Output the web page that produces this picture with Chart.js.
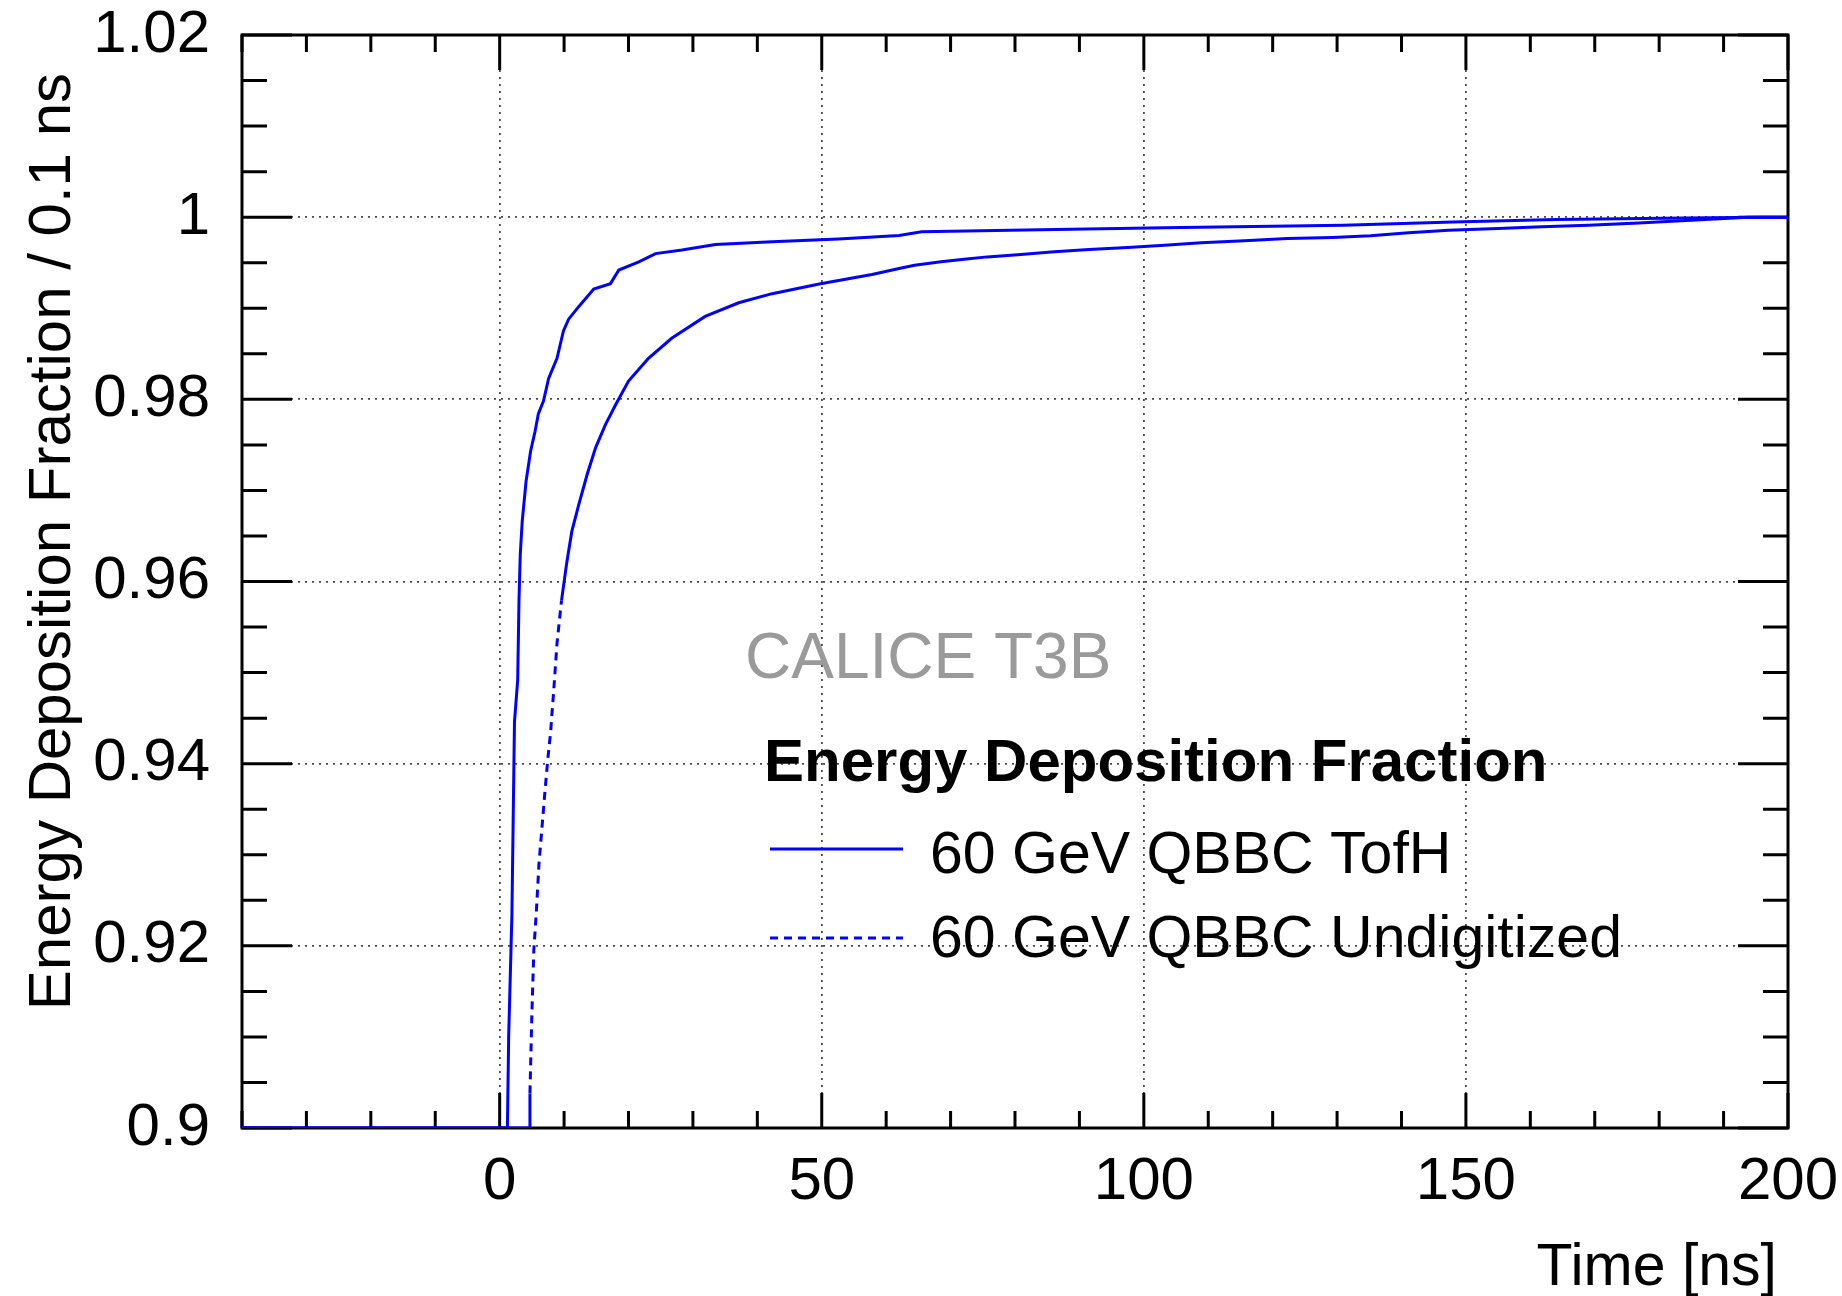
<!DOCTYPE html>
<html>
<head>
<meta charset="utf-8">
<title>Energy Deposition Fraction</title>
<script src="https://cdn.jsdelivr.net/npm/chart.js@4.4.1/dist/chart.umd.min.js"></script>
<style>
  html, body { margin: 0; padding: 0; background: #fff; }
  #wrap { width: 1842px; height: 1296px; position: relative; }
</style>
</head>
<body>
<div id="wrap"><canvas id="chart"></canvas></div>
<script>
// cumulative energy fraction: time (ns) and fraction
const tofhTime = [-40, 1.2, 1.4, 1.9, 2.3, 2.8, 3.0, 3.2, 3.5, 4.1, 4.8, 5.5, 6.0, 6.8, 7.6, 8.9, 9.9, 10.7, 12.3, 14.6, 17.2, 18.5, 21.6, 24.2, 28.3, 33.5, 42.3, 52.6, 62.0, 65.5, 86.2, 105.8, 131.0, 148.0, 164.0, 184.0, 196.0, 200];
const tofhFrac = [0.9, 0.9, 0.9101, 0.9234, 0.9446, 0.9492, 0.9579, 0.963, 0.9666, 0.971, 0.9743, 0.9765, 0.9784, 0.9798, 0.9823, 0.9845, 0.9875, 0.9888, 0.9902, 0.9921, 0.9927, 0.9942, 0.9951, 0.996, 0.9964, 0.997, 0.9973, 0.9976, 0.998, 0.9984, 0.99865, 0.99887, 0.9991, 0.99948, 0.99975, 0.9999, 1.0, 1.0];

const undigTime = [-40, 4.6, 4.7, 5.0, 5.3, 5.7, 6.1, 6.5, 7.0, 7.5, 7.9, 8.4, 8.9, 9.6, 10.4, 11.2, 12.3, 13.6, 14.9, 16.4, 18.0, 20.0, 23.1, 26.7, 31.9, 37.1, 42.3, 49.8, 57.8, 62.0, 64.4, 68.5, 72.1, 75.7, 80.9, 86.1, 91.5, 97.5, 103.2, 108.9, 115.6, 122.3, 129.3, 135.2, 141.1, 147.3, 155.0, 161.8, 169.0, 176.8, 193.8, 200];
const undigFrac = [0.9, 0.9, 0.9038, 0.9125, 0.9195, 0.9238, 0.929, 0.9324, 0.9367, 0.9407, 0.9434, 0.9481, 0.9532, 0.9579, 0.962, 0.9655, 0.9685, 0.9718, 0.9747, 0.9772, 0.9794, 0.982, 0.9845, 0.9867, 0.9891, 0.9906, 0.9916, 0.9927, 0.9937, 0.99437, 0.99473, 0.9951, 0.99539, 0.99564, 0.9959, 0.99619, 0.99645, 0.99667, 0.99693, 0.99718, 0.9974, 0.99766, 0.99778, 0.99795, 0.9983, 0.99857, 0.99876, 0.99894, 0.99912, 0.99937, 1.0, 1.0];

const xTickValues = [0, 50, 100, 150, 200];
const yTickValues = [0.9, 0.92, 0.94, 0.96, 0.98, 1, 1.02];
const yTickLabels = ["0.9", "0.92", "0.94", "0.96", "0.98", "1", "1.02"];

const seriesNames = ["60 GeV QBBC TofH", "60 GeV QBBC Undigitized"];
const legendTitle = "Energy Deposition Fraction";
const watermark = "CALICE T3B";
const xTitle = "Time [ns]";
const yTitle = "Energy Deposition Fraction / 0.1 ns";

const FONT = "'Liberation Sans', Arial, Helvetica, sans-serif";
const BLUE = "#0000ff";
const DASH = [8, 6];

const toPoints = (xs, ys) => xs.map((t, i) => ({ x: t, y: ys[i] }));

// ROOT-style frame with inward ticks on all four sides, plus titles and legend
const rootFrame = {
    id: "rootFrame",
    beforeDatasetsDraw(chart) {
        const { ctx, chartArea: a, scales: { x, y } } = chart;
        ctx.save();
        ctx.strokeStyle = "#000";
        ctx.lineWidth = 3;
        ctx.beginPath();
        for (let t = -40; t <= 200; t += 10) {
            const px = x.getPixelForValue(t);
            const len = t % 50 === 0 ? 35 : 17;
            ctx.moveTo(px, a.bottom); ctx.lineTo(px, a.bottom - len);
            ctx.moveTo(px, a.top); ctx.lineTo(px, a.top + len);
        }
        for (let i = 0; i <= 24; i++) {
            const py = y.getPixelForValue(0.9 + i * 0.005);
            const len = i % 4 === 0 ? 50 : 25;
            ctx.moveTo(a.left, py); ctx.lineTo(a.left + len, py);
            ctx.moveTo(a.right, py); ctx.lineTo(a.right - len, py);
        }
        ctx.stroke();
        ctx.strokeRect(a.left, a.top, a.right - a.left, a.bottom - a.top);
        ctx.restore();
    },
    afterDraw(chart) {
        const { ctx } = chart;
        ctx.save();
        ctx.textBaseline = "alphabetic";

        // axis titles
        ctx.fillStyle = "#000";
        ctx.font = "59px " + FONT;
        ctx.textAlign = "right";
        ctx.fillText(xTitle, 1777, 1285);

        ctx.save();
        ctx.translate(70, 73);
        ctx.rotate(-Math.PI / 2);
        ctx.font = "60px " + FONT;
        ctx.textAlign = "right";
        ctx.fillText(yTitle, 0, 0);
        ctx.restore();

        // watermark
        ctx.textAlign = "left";
        ctx.fillStyle = "#9a9a9a";
        ctx.font = "64px " + FONT;
        ctx.fillText(watermark, 745, 678);

        // legend
        ctx.fillStyle = "#000";
        ctx.font = "bold 60px " + FONT;
        ctx.fillText(legendTitle, 764, 781);

        ctx.font = "59px " + FONT;
        ctx.fillText(seriesNames[0], 930, 873);
        ctx.fillText(seriesNames[1], 930, 957);

        ctx.strokeStyle = BLUE;
        ctx.lineWidth = 3;
        ctx.beginPath();
        ctx.moveTo(770, 849); ctx.lineTo(903, 849);
        ctx.stroke();
        ctx.setLineDash(DASH);
        ctx.beginPath();
        ctx.moveTo(770, 938); ctx.lineTo(903, 938);
        ctx.stroke();
        ctx.restore();
    }
};

const ctx = document.getElementById("chart").getContext("2d");

new Chart(ctx, {
    type: "line",
    data: {
        datasets: [
            {
                label: seriesNames[0],
                data: toPoints(tofhTime, tofhFrac),
                borderColor: BLUE,
                borderWidth: 3,
                tension: 0,
                pointRadius: 0,
                fill: false
            },
            {
                label: seriesNames[1],
                data: toPoints(undigTime, undigFrac),
                borderColor: BLUE,
                borderWidth: 3,
                tension: 0,
                pointRadius: 0,
                fill: false,
                // only the long jumps of the steep rise show the dashes
                segment: {
                    borderDash: c => (c.p0.parsed.y > 0.9 && c.p1.parsed.y < 0.96) ? DASH : undefined
                }
            }
        ]
    },
    options: {
        responsive: true,
        maintainAspectRatio: false,
        animation: false,
        events: [],
        layout: { padding: { left: 0, top: 35, right: 54, bottom: 0 } },
        plugins: {
            legend: { display: false },
            tooltip: { enabled: false }
        },
        scales: {
            x: {
                type: "linear",
                min: -40,
                max: 200,
                afterBuildTicks: scale => { scale.ticks = xTickValues.map(v => ({ value: v })); },
                afterFit: scale => {
                    scale.height = 168;
                    scale.paddingLeft = 0;
                    scale.paddingRight = 0;
                },
                ticks: {
                    autoSkip: false,
                    maxRotation: 0,
                    padding: 18,
                    color: "#000",
                    font: { family: FONT, size: 60 },
                    callback: value => String(value)
                },
                grid: { color: "#4a4a4a", lineWidth: 1.8, drawTicks: false },
                border: { display: false, dash: [2, 5] }
            },
            y: {
                type: "linear",
                min: 0.9,
                max: 1.02,
                afterBuildTicks: scale => { scale.ticks = yTickValues.map(v => ({ value: v })); },
                afterFit: scale => {
                    scale.width = 242;
                    scale.paddingTop = 0;
                    scale.paddingBottom = 0;
                },
                ticks: {
                    autoSkip: false,
                    padding: 32,
                    color: "#000",
                    font: { family: FONT, size: 60 },
                    callback: (value, index) => yTickLabels[index]
                },
                grid: { color: "#4a4a4a", lineWidth: 1.8, drawTicks: false },
                border: { display: false, dash: [2, 5] }
            }
        }
    },
    plugins: [rootFrame]
});
</script>
</body>
</html>
